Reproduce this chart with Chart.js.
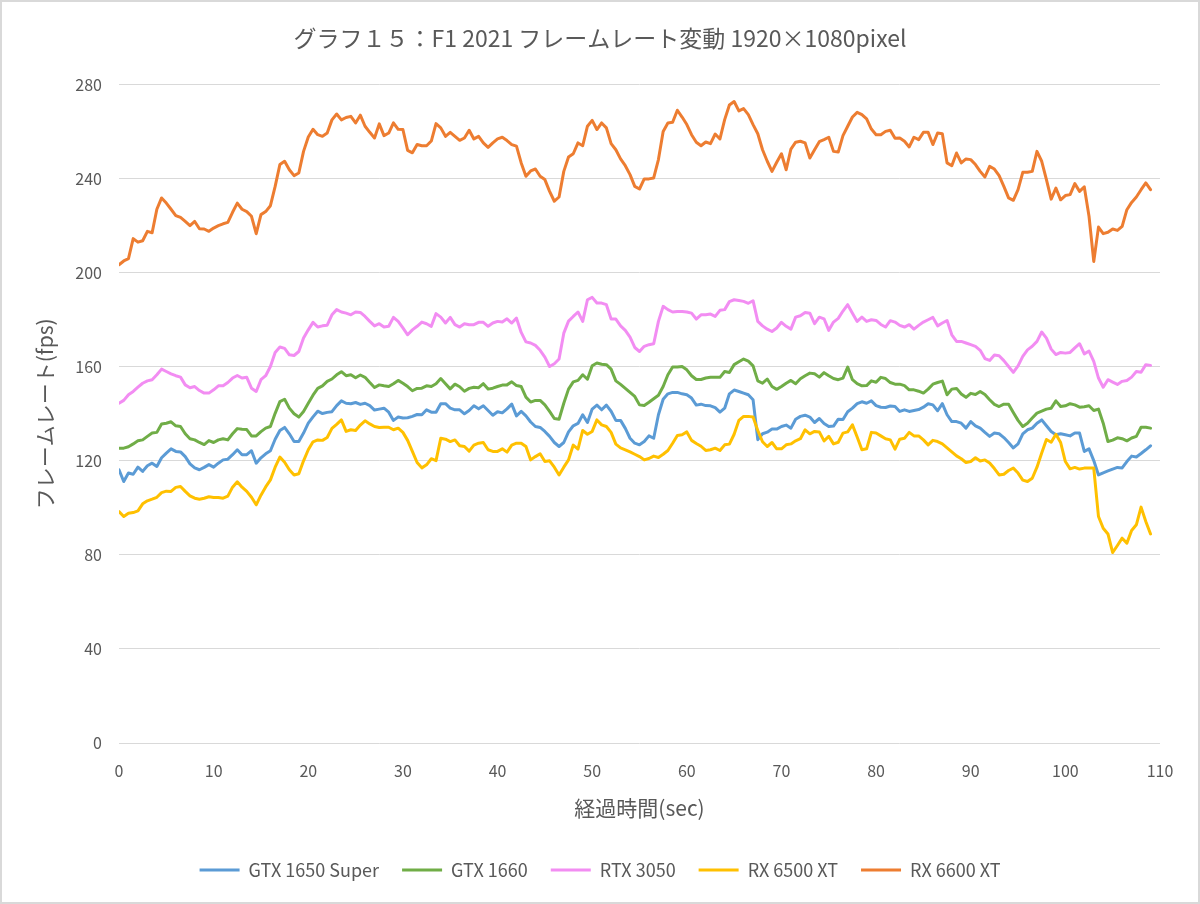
<!DOCTYPE html>
<html lang="ja">
<head>
<meta charset="utf-8">
<title>グラフ15</title>
<script src="https://cdn.jsdelivr.net/npm/chart.js@4.4.1/dist/chart.umd.min.js"></script>
<style>
  html, body { margin: 0; padding: 0; background: #fff; }
  #frame { width: 1200px; height: 904px; box-sizing: border-box; border: 2px solid #d9d9d9; }
  canvas { display: block; }
</style>
</head>
<body>
<div id="frame"><canvas id="chart" width="1196" height="900"></canvas></div>
<script>
// elapsed time (sec), one sample every 0.5 s
const seconds = [
  0,0.5,1,1.5,2,2.5,3,3.5,4,4.5,5,5.5,6,6.5,7,7.5,8,8.5,9,9.5,
  10,10.5,11,11.5,12,12.5,13,13.5,14,14.5,15,15.5,16,16.5,17,17.5,18,18.5,19,19.5,
  20,20.5,21,21.5,22,22.5,23,23.5,24,24.5,25,25.5,26,26.5,27,27.5,28,28.5,29,29.5,
  30,30.5,31,31.5,32,32.5,33,33.5,34,34.5,35,35.5,36,36.5,37,37.5,38,38.5,39,39.5,
  40,40.5,41,41.5,42,42.5,43,43.5,44,44.5,45,45.5,46,46.5,47,47.5,48,48.5,49,49.5,
  50,50.5,51,51.5,52,52.5,53,53.5,54,54.5,55,55.5,56,56.5,57,57.5,58,58.5,59,59.5,
  60,60.5,61,61.5,62,62.5,63,63.5,64,64.5,65,65.5,66,66.5,67,67.5,68,68.5,69,69.5,
  70,70.5,71,71.5,72,72.5,73,73.5,74,74.5,75,75.5,76,76.5,77,77.5,78,78.5,79,79.5,
  80,80.5,81,81.5,82,82.5,83,83.5,84,84.5,85,85.5,86,86.5,87,87.5,88,88.5,89,89.5,
  90,90.5,91,91.5,92,92.5,93,93.5,94,94.5,95,95.5,96,96.5,97,97.5,98,98.5,99,99.5,
  100,100.5,101,101.5,102,102.5,103,103.5,104,104.5,105,105.5,106,106.5,107,107.5,108,108.5,109
];

// frame rate (fps)
const gtx1650Super = [
  116.2,111.2,114.8,114.3,117.3,115.5,117.9,119.0,117.6,121.3,
  123.3,125.1,124.0,123.8,121.8,118.7,117.0,116.2,117.2,118.4,
  117.3,119.0,120.4,120.7,122.6,124.7,122.6,122.6,124.3,119.0,
  121.3,123.0,124.3,129.2,132.9,134.2,131.5,128.2,128.2,131.8,
  136.0,138.7,141.1,140.1,140.6,140.9,143.5,145.5,144.5,144.3,
  144.8,144.0,144.5,143.5,141.6,142.0,142.4,140.7,137.2,138.6,
  138.2,138.3,138.9,139.7,139.6,141.7,140.7,140.7,144.3,144.3,
  142.4,141.7,141.7,140.0,141.4,143.4,142.1,143.4,141.4,139.4,
  140.9,140.4,142.1,144.1,139.1,141.0,139.1,136.5,134.6,134.2,
  132.5,130.4,127.8,126.1,127.8,132.3,134.9,135.9,139.6,136.3,
  142.0,143.7,141.7,143.7,141.1,137.2,137.2,133.8,129.6,127.5,
  126.8,128.2,130.6,129.6,139.6,146.2,148.5,149.1,149.1,
  148.5,148.1,146.7,143.7,144.1,143.5,143.4,142.6,140.7,142.4,
  148.5,150.1,149.5,148.8,148.1,146.0,129.0,131.5,132.2,133.5,
  133.5,134.6,135.2,133.9,137.7,138.9,139.4,138.6,136.3,138.0,
  135.9,134.6,134.8,137.7,137.6,140.9,142.4,144.3,145.1,144.5,
  145.5,143.5,142.8,142.7,143.3,143.1,141.0,141.7,141.0,141.4,
  141.8,142.8,144.3,143.8,141.3,144.3,139.6,136.7,136.7,
  136.0,133.9,136.7,134.9,133.9,132.1,130.4,131.8,131.5,129.9,
  127.8,125.5,127.2,131.5,133.2,133.9,136.0,137.4,134.9,132.5,
  131.1,131.5,131.1,130.6,131.8,131.8,124.0,125.1,120.1,114.0,
  114.9,115.7,116.5,117.2,117.0,119.7,122.0,121.6,123.1,124.7,126.4
];
const gtx1660 = [
  125.4,125.4,126.0,127.2,128.5,128.9,130.4,131.8,132.1,135.7,
  136.0,136.6,134.9,134.6,131.5,129.4,128.9,127.8,126.9,128.6,
  127.8,128.9,129.4,128.9,131.5,133.7,133.4,133.3,130.6,130.6,
  132.4,133.9,134.6,140.2,145.2,146.2,142.4,140.0,138.6,141.0,
  144.5,147.9,150.8,151.9,153.8,154.8,156.6,157.9,156.2,156.6,
  155.3,156.5,155.5,153.3,151.2,152.3,151.9,151.6,152.8,154.2,
  153.0,151.6,149.8,150.8,150.9,151.9,151.6,152.8,155.0,152.8,
  150.6,152.6,151.5,149.6,150.8,151.3,151.1,152.8,150.5,150.9,
  151.6,152.2,152.3,153.6,152.0,151.6,147.1,145.0,145.7,145.7,
  143.8,141.0,138.0,137.7,144.5,150.5,153.6,154.2,156.6,154.7,
  160.4,161.6,161.1,160.9,159.0,154.0,152.5,150.8,149.1,147.4,
  143.8,143.5,144.9,146.4,147.9,151.6,156.6,159.9,159.9,
  160.1,158.7,156.2,154.6,154.6,155.2,155.5,155.5,155.5,158.0,
  157.6,160.9,162.1,163.3,162.4,160.4,154.0,153.0,154.8,151.6,
  150.4,151.6,153.0,154.2,152.8,154.9,156.2,157.3,157.0,155.6,
  157.5,156.2,155.0,154.5,155.2,159.9,154.5,152.8,151.9,152.0,
  154.0,153.4,155.5,155.0,153.3,152.6,152.6,152.0,150.2,150.2,
  149.6,148.8,150.5,152.6,153.3,153.9,148.1,150.5,150.8,
  148.4,147.0,148.7,148.2,149.5,148.2,146.0,144.0,143.1,144.1,
  144.1,140.6,137.2,134.6,136.0,138.2,140.3,141.1,142.0,142.4,
  145.5,143.1,143.4,144.3,143.8,142.8,143.0,143.4,141.4,142.0,
  136.0,128.2,128.8,129.8,129.4,128.5,129.7,130.4,134.3,134.3,133.9
];
const rtx3050 = [
  144.5,145.7,148.1,149.5,151.3,153.0,154.0,154.5,156.6,159.0,
  158.0,157.0,156.2,155.6,152.3,151.1,151.6,149.9,148.8,148.8,
  150.2,151.9,151.9,153.3,155.2,156.3,155.2,155.5,150.9,149.5,
  154.5,156.2,160.1,166.1,168.4,167.8,165.1,164.8,166.5,172.2,
  175.7,178.9,176.9,177.4,177.7,182.1,184.3,183.3,182.8,182.1,
  183.3,183.1,181.4,179.3,177.4,178.3,176.9,177.2,181.0,179.3,
  176.5,173.6,175.7,177.2,179.0,178.3,177.2,182.6,181.1,178.6,
  181.0,177.9,176.9,178.3,177.9,177.9,178.9,178.9,177.2,178.6,
  179.3,179.0,180.4,178.6,180.7,174.6,170.6,170.1,169.1,167.0,
  164.1,160.1,161.3,163.3,174.3,179.4,181.4,183.3,179.3,188.5,
  189.5,187.1,187.1,186.4,180.3,180.3,177.4,175.5,172.6,168.2,
  166.5,168.7,169.4,169.8,179.3,185.7,184.3,183.3,183.5,
  183.5,183.3,182.8,180.3,182.1,182.1,182.4,181.4,184.0,184.3,
  187.7,188.5,188.2,187.8,187.0,188.1,179.3,177.4,176.0,175.0,
  176.5,178.9,177.2,176.0,181.1,181.7,183.1,182.8,178.3,181.1,
  180.4,175.5,179.0,180.6,183.7,186.4,182.8,179.3,181.1,179.3,
  180.0,179.7,178.0,176.9,179.6,179.0,177.6,176.9,177.9,176.0,
  177.6,179.0,180.0,181.0,177.4,178.6,179.7,173.6,170.8,
  170.8,170.1,169.4,168.7,167.0,163.5,162.7,165.0,164.7,162.6,
  160.1,157.6,160.4,164.4,167.2,168.7,170.8,174.8,172.2,167.5,
  165.2,166.1,165.8,166.1,168.0,169.8,165.5,166.7,162.3,155.2,
  151.3,154.5,153.5,152.5,153.8,154.2,155.6,158.0,157.7,160.9,160.6
];
const rx6500xt = [
  98.4,96.3,97.7,98.0,98.7,101.7,103.0,103.7,104.5,106.5,
  107.1,107.0,108.7,109.1,107.0,105.1,104.1,103.7,104.1,104.7,
  104.4,104.4,104.1,105.0,108.8,111.1,108.8,107.0,104.5,101.3,
  105.4,108.9,111.9,117.3,121.6,119.4,116.2,114.0,114.5,120.0,
  124.7,128.1,128.9,128.7,129.9,133.8,135.5,137.4,132.5,133.2,
  132.9,135.2,137.0,135.7,134.6,134.2,134.3,134.3,133.2,133.9,
  132.1,128.7,124.0,119.3,117.0,118.3,120.9,120.1,129.6,129.2,
  128.2,128.9,126.4,126.1,124.1,126.7,127.5,127.8,124.7,124.0,
  124.0,125.1,123.7,126.7,127.5,127.5,126.1,120.4,121.8,123.0,
  119.7,120.0,117.3,114.0,117.3,120.4,126.7,125.0,132.9,131.3,
  132.5,137.4,135.3,134.6,132.1,127.1,125.5,124.7,123.8,122.8,
  121.8,120.4,121.0,122.0,121.4,122.8,124.4,127.5,130.8,
  131.1,132.3,128.7,127.4,126.2,124.4,124.7,125.4,124.4,126.8,
  127.1,131.3,137.2,138.9,138.9,138.6,132.9,128.1,126.1,127.8,
  125.1,125.1,126.8,127.2,128.5,129.4,133.2,131.5,132.5,132.3,
  128.5,130.4,127.2,127.9,131.8,132.3,135.3,130.1,124.7,125.1,
  132.1,131.8,130.6,129.4,128.9,125.0,129.2,129.6,132.1,130.6,
  130.6,128.9,126.8,128.7,128.2,127.2,125.5,123.8,122.1,
  120.9,119.3,119.7,121.3,119.9,120.4,119.1,116.7,114.0,114.3,
  115.9,116.9,114.8,111.8,111.2,112.6,117.3,123.3,129.1,127.9,
  131.3,127.8,119.7,116.6,117.2,116.5,116.9,116.9,116.9,96.3,
  91.3,88.9,81.0,84.0,87.1,85.0,90.4,92.8,100.3,94.2,88.9
];
const rx6600xt = [
  203.4,205.0,206.0,214.5,213.0,213.6,217.6,217.0,227.0,231.8,
  229.6,227.0,224.3,223.5,221.8,220.0,221.8,218.7,218.6,217.6,
  219.0,220.0,220.8,221.4,225.7,229.6,227.0,226.0,224.0,216.6,
  224.7,226.0,228.5,236.7,246.0,247.4,243.8,241.3,242.4,251.6,
  257.7,261.0,258.7,258.0,259.4,265.0,267.5,265.0,266.0,266.5,
  263.7,267.0,262.3,259.7,257.3,263.3,258.3,259.4,263.7,261.0,
  260.9,252.0,251.0,254.5,254.0,254.0,256.0,263.4,261.6,258.0,
  259.7,258.0,256.3,257.3,260.6,256.9,258.0,255.2,253.3,255.2,
  256.9,257.6,256.2,254.5,253.8,246.7,241.0,243.3,244.1,241.0,
  239.6,234.6,230.4,232.2,243.1,249.2,250.6,255.2,254.0,262.3,
  264.8,260.9,263.7,261.6,254.9,252.3,248.4,245.5,241.7,236.7,
  235.6,239.9,239.9,240.3,248.1,260.1,263.7,264.0,269.1,
  266.2,263.0,258.7,255.5,254.0,255.6,254.9,259.0,256.9,265.1,
  271.3,272.8,268.8,269.8,267.2,263.0,259.1,252.3,247.4,243.1,
  247.0,250.6,243.8,252.6,255.5,255.9,255.2,248.8,252.3,255.7,
  256.6,257.6,251.6,251.3,258.3,262.3,266.2,268.2,267.2,265.4,
  261.1,258.7,258.7,260.1,260.6,257.2,257.3,255.9,253.5,257.6,
  256.6,259.7,259.7,254.5,259.4,259.1,246.7,245.5,250.9,
  246.7,248.4,248.1,246.0,243.1,240.7,245.2,244.1,241.3,236.7,
  231.8,230.8,235.3,242.7,242.7,243.1,251.6,247.4,239.6,231.3,
  236.0,231.0,232.8,233.2,237.9,234.6,236.5,224.0,204.8,219.4,
  216.6,217.2,218.6,218.0,219.7,226.8,229.9,232.2,235.3,238.2,235.3
];

const seriesNames = ["GTX 1650 Super", "GTX 1660", "RTX 3050", "RX 6500 XT", "RX 6600 XT"];
const seriesValues = [gtx1650Super, gtx1660, rtx3050, rx6500xt, rx6600xt];
const seriesColors = ["#5B9BD5", "#70AD47", "#F28DF2", "#FFC000", "#ED7D31"];

const xTicks = [0, 10, 20, 30, 40, 50, 60, 70, 80, 90, 100, 110];
const yTicks = [0, 40, 80, 120, 160, 200, 240, 280];

const textColor = "#595959";
const gridColor = "#d9d9d9";
const fontFamily = "'Noto Sans CJK JP', 'Noto Sans', sans-serif";

// Datasets
const datasets = seriesNames.map((name, i) => ({
  label: name,
  data: seconds.map((s, j) => ({x: s, y: seriesValues[i][j]})),
  borderColor: seriesColors[i],
  backgroundColor: seriesColors[i],
  borderWidth: 3,
  pointRadius: 0,
  tension: 0,
  borderJoinStyle: "round",
  borderCapStyle: "round",
  order: seriesNames.length - i
}));

const config = {
  type: "line",
  data: { datasets: datasets },
  options: {
    responsive: false,
    animation: false,
    devicePixelRatio: 1,
    // symmetric padding keeps title and legend centred on the frame
    layout: { padding: { left: 19, right: 19, top: 0, bottom: 13 } },
    plugins: {
      title: {
        display: true,
        text: "グラフ１５：F1 2021 フレームレート変動 1920×1080pixel",
        color: textColor,
        font: { family: fontFamily, size: 23, weight: "normal" },
        padding: { top: 22, bottom: 33 }
      },
      legend: {
        position: "bottom",
        labels: {
          color: textColor,
          font: { family: fontFamily, size: 18 },
          boxWidth: 40,
          boxHeight: 3,
          padding: 23,
          generateLabels: (chart) => {
            const items = Chart.defaults.plugins.legend.labels.generateLabels(chart);
            items.forEach(it => { it.lineWidth = 0; });
            return items.sort((a, b) => a.datasetIndex - b.datasetIndex);
          }
        }
      },
      tooltip: { enabled: false }
    },
    scales: {
      x: {
        type: "linear",
        min: 0,
        max: 110,
        afterBuildTicks: (scale) => { scale.ticks = xTicks.map(v => ({value: v})); },
        afterFit: (scale) => { scale.height = 95; },
        grid: { display: false, drawTicks: false },
        border: { display: false },
        ticks: {
          color: textColor,
          font: { family: fontFamily, size: 16 },
          padding: 18,
          maxRotation: 0
        },
        title: {
          display: true,
          text: "経過時間(sec)",
          color: textColor,
          font: { family: fontFamily, size: 21 },
          padding: { top: 0, bottom: 17 }
        }
      },
      y: {
        min: 0,
        max: 280,
        afterBuildTicks: (scale) => { scale.ticks = yTicks.map(v => ({value: v})); },
        afterFit: (scale) => { scale.width = 98; },
        grid: { color: gridColor, lineWidth: 1, drawTicks: false },
        border: { display: false },
        ticks: {
          color: textColor,
          font: { family: fontFamily, size: 16 },
          padding: 17
        },
        title: {
          display: true,
          text: "フレームレート(fps)",
          color: textColor,
          font: { family: fontFamily, size: 21 },
          padding: { top: 11, bottom: 0 }
        }
      },
      // empty right-hand spacer so the plot ends at x = 110 where the reference does
      spacer: {
        type: "linear",
        position: "right",
        display: true,
        afterFit: (scale) => { scale.width = 19; },
        grid: { display: false, drawTicks: false },
        border: { display: false },
        ticks: { display: false }
      }
    }
  }
};

new Chart(document.getElementById("chart"), config);
</script>
</body>
</html>
